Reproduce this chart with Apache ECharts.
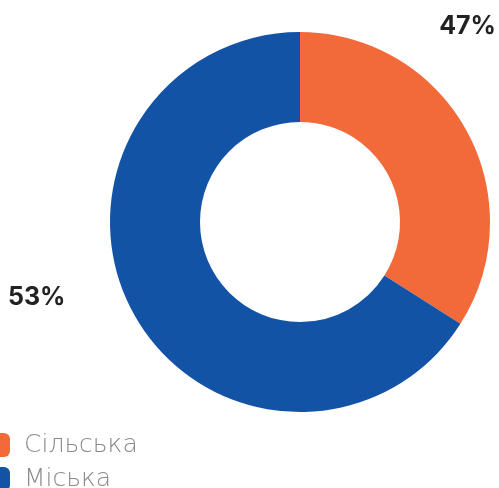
<!DOCTYPE html>
<html>
	<head>
		<meta charset="utf-8">
		<title>Сільська / Міська</title>
		<script src="https://cdn.jsdelivr.net/npm/echarts@6/dist/echarts.min.js"></script>
	</head>
	<body style="margin:0;padding:0">
		<div id="main" style="width: 499px;height:488px;"></div>
	</body>
	<script type="text/javascript">
var names = ['Сільська', 'Міська'];
// slice sizes as drawn in the picture
var values = [34, 66];
// percent labels as printed
var labels = ['47%', '53%'];
var colors = ['#F36A3A', '#1253A5'];

var myChart = echarts.init(document.getElementById('main'));

var option = {
    color: colors,
    backgroundColor: '#fff',
    legend: {
        orient: 'vertical',
        left: -14,
        top: 432,
        height: 100,
        padding: 0,
        itemWidth: 24,
        itemHeight: 24,
        itemGap: 8,
        icon: 'roundRect',
        data: names,
        textStyle: {
            fontFamily: 'DejaVu Sans',
            fontWeight: 200,
            fontSize: 25,
            lineHeight: 24,
            color: '#8a8a8a',
            padding: [2, 0, 0, 9]
        }
    },
    graphic: [{
        type: 'text',
        right: 3,
        top: 14,
        style: {
            text: labels[0],
            font: 'bold 25px Inter, "DejaVu Sans", sans-serif',
            fill: '#222'
        }
    }, {
        type: 'text',
        left: 8,
        top: 285,
        style: {
            text: labels[1],
            font: 'bold 25px Inter, "DejaVu Sans", sans-serif',
            fill: '#222'
        }
    }],
    series: [{
        type: 'pie',
        center: [300, 222],
        radius: [100, 190],
        startAngle: 90,
        clockwise: true,
        silent: true,
        label: { show: false },
        labelLine: { show: false },
        data: names.map(function (n, i) {
            return { name: n, value: values[i] };
        })
    }]
};
myChart.setOption(option);
	</script>
</html>
